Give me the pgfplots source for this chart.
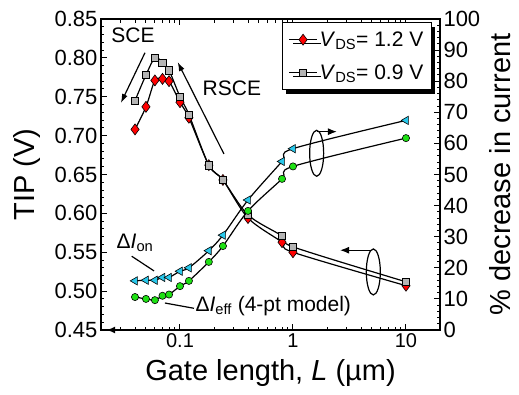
\documentclass[border=0pt]{standalone}
\usepackage{fontspec}
\setmainfont{Liberation Sans}
\usepackage{pgfplots}
\pgfplotsset{compat=1.18}
\usetikzlibrary{shadows,arrows.meta}
\definecolor{myred}{RGB}{255,0,0}
\definecolor{mygray}{RGB}{180,180,180}
\definecolor{mycyan}{RGB}{40,200,235}
\definecolor{mygreen}{RGB}{30,225,20}
\begin{document}
\begin{tikzpicture}
\path[use as bounding box] (-101pt,-64pt) rectangle (418pt,330pt);
\begin{axis}[
  scale only axis, width=339pt, height=311pt,
  xmode=log, xmin=0.02, xmax=20,
  log ticks with fixed point,
  ymin=0.45, ymax=0.85,
  ytick={0.45,0.50,0.55,0.60,0.65,0.70,0.75,0.80,0.85},
  yticklabel style={/pgf/number format/fixed, /pgf/number format/fixed zerofill, /pgf/number format/precision=2},
  minor y tick num=4,
  ytick pos=left,
  xtick pos=both,
  tick align=inside,
  major tick length=6pt, minor tick length=3.5pt,
  every tick/.style={black, line width=1pt},
  axis line style={line width=1.4pt},
  /pgf/number format/assume math mode=true,
  yticklabel style={font=\fontsize{22}{24}\selectfont},
  xticklabel style={font=\fontsize{20}{22}\selectfont},
  xlabel={Gate length, \textit{L} (µm)},
  ylabel={TIP (V)},
  label style={font=\fontsize{29}{32}\selectfont},
  ylabel style={at={([xshift=-74pt]axis description cs:0,0.5)}, anchor=center},
  xlabel style={at={([yshift=-43pt]axis description cs:0.5,0)}, anchor=center},
  legend style={at={(0.976,0.99)}, anchor=north east, draw=black, line width=1pt, fill=white,
    font=\fontsize{21}{24}\selectfont, inner xsep=6pt, inner ysep=7pt,
    drop shadow={shadow xshift=4pt, shadow yshift=-4pt, fill=black, opacity=1},
    nodes={inner sep=2pt}, row sep=13pt},
  legend cell align=left,
  legend image code/.code={\draw[mark repeat=2,mark phase=2,#1] plot coordinates {(0pt,0pt) (14pt,0pt) (28pt,0pt)};},
  clip=false,
]
\addplot[smooth, line width=1.2pt, black, mark=diamond*, mark size=5.5pt,
  mark options={fill=myred, draw=black, line width=0.6pt}] coordinates {
(0.04,0.708) (0.05,0.737) (0.06,0.771) (0.07,0.773) (0.08,0.770) (0.1,0.743)
(0.12,0.723) (0.18,0.662) (0.24,0.643) (0.4,0.594) (0.8,0.563) (1.0,0.550) (10,0.507)};
\addlegendentry{\textit{V}\textsubscript{DS}= 1.2 V}
\addplot[smooth, line width=1.2pt, black, mark=square*, mark size=3.7pt,
  mark options={fill=mygray, draw=black, line width=0.6pt}] coordinates {
(0.04,0.745) (0.05,0.778) (0.06,0.800) (0.07,0.794) (0.08,0.784) (0.1,0.750)
(0.12,0.727) (0.18,0.662) (0.24,0.643) (0.4,0.598) (0.8,0.571) (1.0,0.557) (10,0.512)};
\addlegendentry{\textit{V}\textsubscript{DS}= 0.9 V}
% annotations
\node[font=\fontsize{21}{24}\selectfont] at (axis cs:0.0384,0.8285) {SCE};
\draw[line width=1.2pt, -{Latex[length=9pt,width=6pt]}] (axis cs:0.049,0.8066) -- (axis cs:0.030,0.742);
\node[font=\fontsize{21}{24}\selectfont] at (axis cs:0.288,0.7614) {RSCE};
\draw[line width=1.2pt, -{Latex[length=9pt,width=6pt]}] (axis cs:0.245,0.6764) -- (axis cs:0.0954,0.7946);
\node[font=\fontsize{21}{24}\selectfont] at (axis cs:0.040,0.5617) {Δ\textit{I}\textsubscript{on}};
\draw[line width=1.2pt] (axis cs:0.0374,0.5449) -- (axis cs:0.0589,0.526);
\draw[line width=1.2pt] (axis cs:0.0736,0.4847) -- (axis cs:0.133,0.4779);
\node[font=\fontsize{21}{24}\selectfont, anchor=west, inner sep=1pt] at (axis cs:0.134,0.481) {Δ\textit{I}\textsubscript{eff} (4-pt model)};
\draw[line width=1.2pt] (axis cs:1.62,0.6773) ellipse [x radius=7pt, y radius=23pt];
\draw[line width=1.2pt, -{Latex[length=9pt,width=7pt]}] (axis cs:1.62,0.7051) -- (axis cs:2.45,0.7051);
\draw[line width=1.2pt] (axis cs:5.14,0.5247) ellipse [x radius=7pt, y radius=23pt];
\draw[line width=1.2pt, -{Latex[length=9pt,width=7pt]}] (axis cs:4.80,0.5526) -- (axis cs:2.61,0.5526);
\draw[line width=2pt, -{Latex[length=9pt,width=7pt]}] (axis cs:0.1,0.45) -- (axis cs:0.0222,0.45);
\end{axis}
\begin{axis}[
  scale only axis, width=339pt, height=311pt,
  xmode=log, xmin=0.02, xmax=20,
  axis x line=none,
  axis y line*=right,
  ymin=0, ymax=100,
  ytick={0,10,...,100},
  minor y tick num=4,
  tick align=inside,
  major tick length=6pt, minor tick length=3.5pt,
  every tick/.style={black, line width=1pt},
  axis line style={line width=1.4pt},
  /pgf/number format/assume math mode=true,
  yticklabel style={font=\fontsize{22}{24}\selectfont},
  ylabel={\% decrease in current},
  label style={font=\fontsize{29}{32}\selectfont},
  ylabel style={at={([xshift=60pt]axis description cs:1,0.5)}, anchor=center},
]
\addplot[smooth, line width=1.2pt, black, mark=triangle*, mark size=4.8pt,
  mark options={fill=mycyan, draw=black, line width=0.6pt, rotate=90}] coordinates {
(0.04,15.8) (0.05,16.0) (0.06,16.0) (0.07,16.9) (0.08,16.9) (0.1,18.9)
(0.12,20.0) (0.18,25.5) (0.24,30.5) (0.4,41.8) (0.8,54.2) (1.0,58.3) (10,67.4)};
\addplot[smooth, line width=1.2pt, black, mark=*, mark size=3.6pt,
  mark options={fill=mygreen, draw=black, line width=0.6pt}] coordinates {
(0.04,10.6) (0.05,10.0) (0.06,9.6) (0.07,11.0) (0.08,11.4) (0.1,14.1)
(0.12,15.8) (0.18,21.9) (0.24,27.0) (0.4,38.3) (0.8,48.6) (1.0,52.6) (10,61.7)};
\end{axis}
\end{tikzpicture}
\end{document}
